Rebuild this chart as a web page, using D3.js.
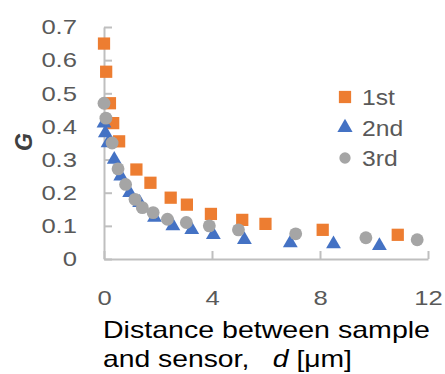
<!DOCTYPE html>
<html>
<head>
  <meta charset="utf-8">
  <style>
    body { margin: 0; background: #fff; }
    text { font-family: "Liberation Sans", Arial, sans-serif; }
  </style>
</head>
<body>
<svg width="445" height="374"></svg>
<script src="https://cdn.jsdelivr.net/npm/d3@7"></script>
<script>
// data
const seriesNames = ["1st", "2nd", "3rd"];
const d1 = [0.0, 0.08, 0.22, 0.34, 0.56, 1.2, 1.72, 2.47, 3.07, 3.96, 5.12, 5.98, 8.1, 10.88];
const g1 = [0.65, 0.565, 0.47, 0.41, 0.355, 0.27, 0.23, 0.185, 0.164, 0.136, 0.118, 0.106, 0.088, 0.073];
const d2 = [0.0, 0.05, 0.15, 0.38, 0.62, 0.95, 1.32, 1.87, 2.55, 3.25, 4.05, 5.2, 6.9, 8.5, 10.2];
const g2 = [0.41, 0.38, 0.35, 0.30, 0.25, 0.20, 0.17, 0.125, 0.10, 0.088, 0.073, 0.058, 0.048, 0.045, 0.04];
const d3v = [0.0, 0.07, 0.3, 0.52, 0.8, 1.15, 1.42, 1.82, 2.35, 3.05, 3.9, 4.98, 7.1, 9.7, 11.6];
const g3 = [0.47, 0.425, 0.35, 0.272, 0.225, 0.18, 0.155, 0.14, 0.12, 0.11, 0.10, 0.088, 0.076, 0.064, 0.058];
const xTicks = [0, 4, 8, 12];
const yTicks = [0, 0.1, 0.2, 0.3, 0.4, 0.5, 0.6, 0.7];

const colors = ["#ED7D31", "#4472C4", "#A5A5A5"];
const symbols = [d3.symbolSquare, d3.symbolTriangle, d3.symbolCircle];
const sizes = [150, 95, 130];

const svg = d3.select("svg");
const x = d3.scaleLinear().domain([0, 12]).range([104, 428]);
const y = d3.scaleLinear().domain([0, 0.7]).range([259, 27]);

// widen text a bit like the source image
function stretch(sel, k) {
  sel.each(function() {
    const w = this.getComputedTextLength();
    d3.select(this).attr("textLength", w * k).attr("lengthAdjust", "spacingAndGlyphs");
  });
}

const yAxis = svg.append("g")
  .attr("transform", "translate(" + x(0) + ",0)")
  .call(d3.axisLeft(y).tickValues(yTicks).tickSizeInner(-8).tickSizeOuter(0).tickPadding(27)
    .tickFormat(d => d === 0 ? "0" : d.toFixed(1)));

const xAxis = svg.append("g")
  .attr("transform", "translate(0," + y(0) + ")")
  .call(d3.axisBottom(x).tickValues(xTicks).tickSizeInner(-8).tickSizeOuter(0).tickPadding(31));

[yAxis, xAxis].forEach(a => {
  a.select(".domain").attr("stroke", "#BFBFBF").attr("stroke-width", 2);
  a.selectAll(".tick line").attr("stroke", "#BFBFBF").attr("stroke-width", 2);
  a.selectAll(".tick text").attr("fill", "#595959").attr("font-size", 21)
    .attr("font-family", "'Liberation Sans', Arial, sans-serif");
});
stretch(yAxis.selectAll(".tick text"), 1.22);
stretch(xAxis.selectAll(".tick text"), 1.22);

// series
const series = [
  d1.map((d, i) => [d, g1[i]]),
  d2.map((d, i) => [d, g2[i]]),
  d3v.map((d, i) => [d, g3[i]])
];

series.forEach((pts, s) => {
  svg.append("g").selectAll("path")
    .data(pts)
    .enter().append("path")
    .attr("d", d3.symbol().type(symbols[s]).size(sizes[s]))
    .attr("fill", colors[s])
    .attr("transform", d => "translate(" + x(d[0]) + "," + y(d[1]) + ")");
});

// legend
const legend = svg.append("g");
seriesNames.forEach((name, i) => {
  const ly = 97 + i * 30.5;
  legend.append("path")
    .attr("d", d3.symbol().type(symbols[i]).size(i === 0 ? 150 : 100))
    .attr("fill", colors[i])
    .attr("transform", "translate(345," + ly + ")");
  legend.append("text")
    .attr("x", 362).attr("y", ly + 8)
    .attr("font-size", 22).attr("fill", "#595959")
    .text(name)
    .call(stretch, 1.12);
});

// y title
svg.append("text")
  .attr("transform", "translate(32,142) rotate(-90)")
  .attr("text-anchor", "middle")
  .attr("font-size", 23).attr("font-weight", "bold").attr("font-style", "italic")
  .attr("fill", "#404040")
  .text("G");

// x title
svg.append("text")
  .attr("x", 103).attr("y", 338)
  .attr("font-size", 24).attr("fill", "#000")
  .text("Distance between sample")
  .attr("textLength", 327).attr("lengthAdjust", "spacingAndGlyphs");

const t2 = svg.append("text")
  .attr("x", 103).attr("y", 367)
  .attr("font-size", 24).attr("fill", "#000")
  .attr("xml:space", "preserve")
  .attr("textLength", 249).attr("lengthAdjust", "spacingAndGlyphs");
t2.append("tspan").text("and sensor,   ");
t2.append("tspan").attr("font-style", "italic").text("d");
t2.append("tspan").text(" [\u03bcm]");
</script>
</body>
</html>
